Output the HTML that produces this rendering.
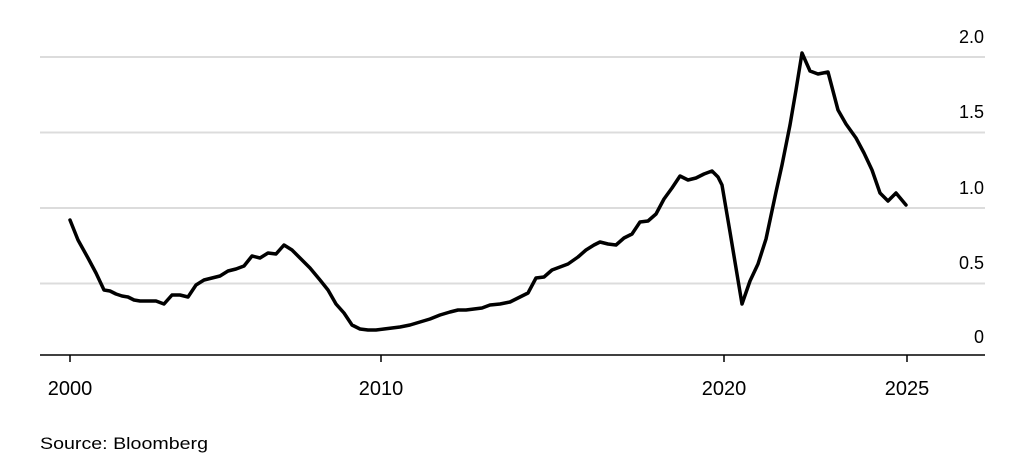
<!DOCTYPE html>
<html><head><style>
html,body{margin:0;padding:0;background:#fff;}
body{width:1024px;height:466px;overflow:hidden;font-family:"Liberation Sans",sans-serif;}
</style></head><body>
<svg width="1024" height="466" xmlns="http://www.w3.org/2000/svg">
<g stroke="#dcdcdc" stroke-width="2">
<line x1="40" y1="57" x2="985" y2="57"/>
<line x1="40" y1="132.5" x2="985" y2="132.5"/>
<line x1="40" y1="208" x2="985" y2="208"/>
<line x1="40" y1="283.5" x2="985" y2="283.5"/>
</g>
<line x1="40" y1="355" x2="985" y2="355" stroke="#000" stroke-width="1.5"/>
<g stroke="#000" stroke-width="1.5">
<line x1="70" y1="355" x2="70" y2="362"/>
<line x1="381" y1="355" x2="381" y2="362"/>
<line x1="724" y1="355" x2="724" y2="362"/>
<line x1="907" y1="355" x2="907" y2="362"/>
</g>
<g font-size="18" fill="#000" text-anchor="end">
<text x="984" y="43">2.0</text>
<text x="984" y="118">1.5</text>
<text x="984" y="194">1.0</text>
<text x="984" y="269">0.5</text>
<text x="984" y="343">0</text>
</g>
<g font-size="20" fill="#000" text-anchor="middle">
<text x="70" y="395">2000</text>
<text x="381" y="395">2010</text>
<text x="724" y="395">2020</text>
<text x="907" y="395">2025</text>
</g>
<text x="40" y="449" font-size="17" fill="#000" textLength="168" lengthAdjust="spacingAndGlyphs">Source: Bloomberg</text>
<polyline fill="none" stroke="#000" stroke-width="3.5" stroke-linejoin="round" stroke-linecap="round" points="70,220 78,240 88,258 96,273 104,290 110,291 116,294 122,296 128,297 134,300 140,301 148,301 156,301 164,304 172,295 180,295 188,297 196,285 204,280 212,278 220,276 228,271 236,269 244,266 252,256 260,258 268,253 276,254 284,245 292,250 300,258 310,268 320,280 328,290 336,304 344,313 352,325 360,329 368,330 376,330 384,329 392,328 400,327 410,325 420,322 430,319 440,315 450,312 458,310 466,310 474,309 482,308 490,305 500,304 510,302 520,297 528,293 536,278 544,277 552,270 560,267 568,264 578,257 586,250 594,245 600,242 608,244 616,245 624,238 632,234 640,222 648,221 656,214 664,199 672,188 680,176 688,180 696,178 704,174 712,171 718,177 722,185 730,232 738,280 742,304 750,281 758,264 766,239 776,192 782,165 790,125 796,90 802,53 810,71 818,74 828,72 838,110 846,124 856,138 864,153 872,170 880,193 888,201 896,193 906,205"/>
</svg>
</body></html>
